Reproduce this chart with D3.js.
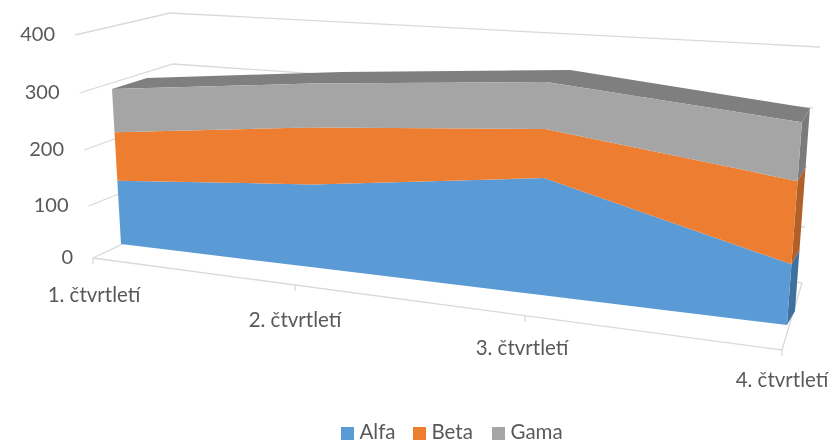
<!DOCTYPE html>
<html>
  <head>
    <meta charset="utf-8">
    <script src="https://cdn.jsdelivr.net/npm/d3@7"></script>
    <style>
      html, body { margin: 0; padding: 0; background: #fff; }
      svg { display: block; filter: blur(0.5px); }
      text { font-family: Lato, sans-serif; fill: #595959; }
    </style>
  </head>
  <body>
    <svg id="chart" width="833" height="442"></svg>
    <script>
      // values
      var categories = ["1. čtvrtletí", "2. čtvrtletí", "3. čtvrtletí", "4. čtvrtletí"];
      var seriesNames = ["Alfa", "Beta", "Gama"];
      var alfa = [117, 146, 195, 98];
      var beta = [90, 100, 82, 134];
      var gama = [80, 77, 78, 95];
      var yTicks = [0, 100, 200, 300, 400];

      var colors = ["#5b9bd5", "#ed7d31", "#a5a5a5"];
      var sideColors = ["#3f719f", "#b2602a", "#7b7b7b"];
      var topColor = "#7f7f7f";
      var gridColor = "#d9d9d9";

      var svg = d3.select("#chart");
      var idx = categories.map(function (c, i) { return i; });
      var rows = idx.map(function (i) { return { i: i, Alfa: alfa[i], Beta: beta[i], Gama: gama[i] }; });
      var stacked = d3.stack().keys(seriesNames)(rows);

      // fake 3d: each category has its own base point, unit height, lean and depth
      var baseX = d3.scaleLinear().domain(idx).range([121, 315, 541, 787]);
      var baseY = d3.scaleLinear().domain([121, 787]).range([244, 325]);
      var unit = d3.scaleLinear().domain(idx).range([0.54, 0.57, 0.6, 0.62]);
      var lean = d3.scaleLinear().domain(idx).range([-0.058, -0.02, 0.025, 0.0735]);
      var depthX = d3.scaleLinear().domain(idx).range([35, 30, 24, 8]);
      var depthY = d3.scaleLinear().domain(idx).range([-11, -11.5, -12, -14]);

      function px(i, v) { return baseX(i) + lean(i) * unit(i) * v; }
      function py(i, v) { return baseY(baseX(i)) - unit(i) * v; }

      // wall gridlines, one scale per corner of the box
      var frontLeftX = d3.scaleLinear().domain([0, 400]).range([93, 75]);
      var frontLeftY = d3.scaleLinear().domain(yTicks).range([258, 206, 150, 93, 35]);
      var backLeftX = d3.scaleLinear().domain([0, 400]).range([182, 170]);
      var backLeftY = d3.scaleLinear().domain(yTicks).range([216, 170, 117, 64, 13]);
      var backRightX = d3.scaleLinear().domain(yTicks).range([802, 805, 807, 813, 820]);
      var backRightY = d3.scaleLinear().domain(yTicks).range([283, 227, 167, 108, 47]);

      var line = d3.line().x(function (d) { return d[0]; }).y(function (d) { return d[1]; });
      var grid = svg.append("g").attr("fill", "none").attr("stroke", gridColor).attr("stroke-width", 1.3);

      grid.selectAll("path.wall").data(yTicks).enter().append("path")
        .attr("class", "wall")
        .attr("d", function (t) {
          return line([
            [frontLeftX(t), frontLeftY(t)],
            [backLeftX(t), backLeftY(t)],
            [backRightX(t), backRightY(t)]
          ]);
        });

      // floor front edge + right edge
      var floorX = d3.scaleLinear().domain(idx).range([93, 295, 525, 782]);
      var floorY = d3.scaleLinear().domain([93, 782]).range([258, 350]);
      grid.append("path").attr("d", line([
        [floorX(0), floorY(floorX(0))],
        [floorX(3), floorY(floorX(3))],
        [backRightX(0), backRightY(0)]
      ]));
      grid.selectAll("path.tick").data(idx).enter().append("path")
        .attr("class", "tick")
        .attr("d", function (i) {
          var x = floorX(i), y = floorY(x);
          return line([[x, y], [x, y + 6]]);
        });

      // top face of the stack
      var last = stacked[stacked.length - 1];
      var topFront = last.map(function (d, i) { return [px(i, d[1]), py(i, d[1])]; });
      var topBack = last.map(function (d, i) {
        return [px(i, d[1]) + depthX(i), py(i, d[1]) + depthY(i)];
      }).reverse();
      svg.append("path").attr("fill", topColor).attr("d", line(topFront.concat(topBack)) + "Z");

      // right hand side faces
      stacked.forEach(function (s, k) {
        var d = s[3];
        var a = [px(3, d[0]), py(3, d[0])];
        var b = [px(3, d[1]), py(3, d[1])];
        svg.append("path").attr("fill", sideColors[k]).attr("d", line([
          a, b,
          [b[0] + depthX(3), b[1] + depthY(3)],
          [a[0] + depthX(3), a[1] + depthY(3)]
        ]) + "Z");
      });

      // front faces
      var area = d3.area()
        .x0(function (d, i) { return px(i, d[0]); })
        .y0(function (d, i) { return py(i, d[0]); })
        .x1(function (d, i) { return px(i, d[1]); })
        .y1(function (d, i) { return py(i, d[1]); });
      svg.selectAll("path.front").data(stacked).enter().append("path")
        .attr("class", "front")
        .attr("fill", function (d, k) { return colors[k]; })
        .attr("d", area);

      // value labels
      svg.selectAll("text.ylab").data(yTicks).enter().append("text")
        .attr("class", "ylab")
        .attr("text-anchor", "end")
        .attr("font-size", 20)
        .attr("x", function (t) { return frontLeftX(t) - 20; })
        .attr("y", function (t) { return frontLeftY(t) + 6; })
        .text(function (t) { return t; });

      // category labels
      var labelX = d3.scaleLinear().domain(idx).range([94, 295, 522, 782]);
      var labelY = d3.scaleLinear().domain(idx).range([302, 327, 355, 387]);
      svg.selectAll("text.cat").data(categories).enter().append("text")
        .attr("class", "cat")
        .attr("text-anchor", "middle")
        .attr("font-size", 20.5)
        .attr("x", function (d, i) { return labelX(i); })
        .attr("y", function (d, i) { return labelY(i); })
        .text(function (d) { return d; });

      // legend
      var legendX = d3.scaleOrdinal().domain(seriesNames).range([341, 413, 492]);
      var legend = svg.selectAll("g.legend").data(seriesNames).enter().append("g")
        .attr("class", "legend")
        .attr("transform", function (d) { return "translate(" + legendX(d) + ",427)"; });
      legend.append("rect").attr("width", 13).attr("height", 13)
        .attr("fill", function (d, k) { return colors[k]; });
      legend.append("text").attr("x", 18.5).attr("y", 12).attr("font-size", 20.5)
        .text(function (d) { return d; });
    </script>
  </body>
</html>
